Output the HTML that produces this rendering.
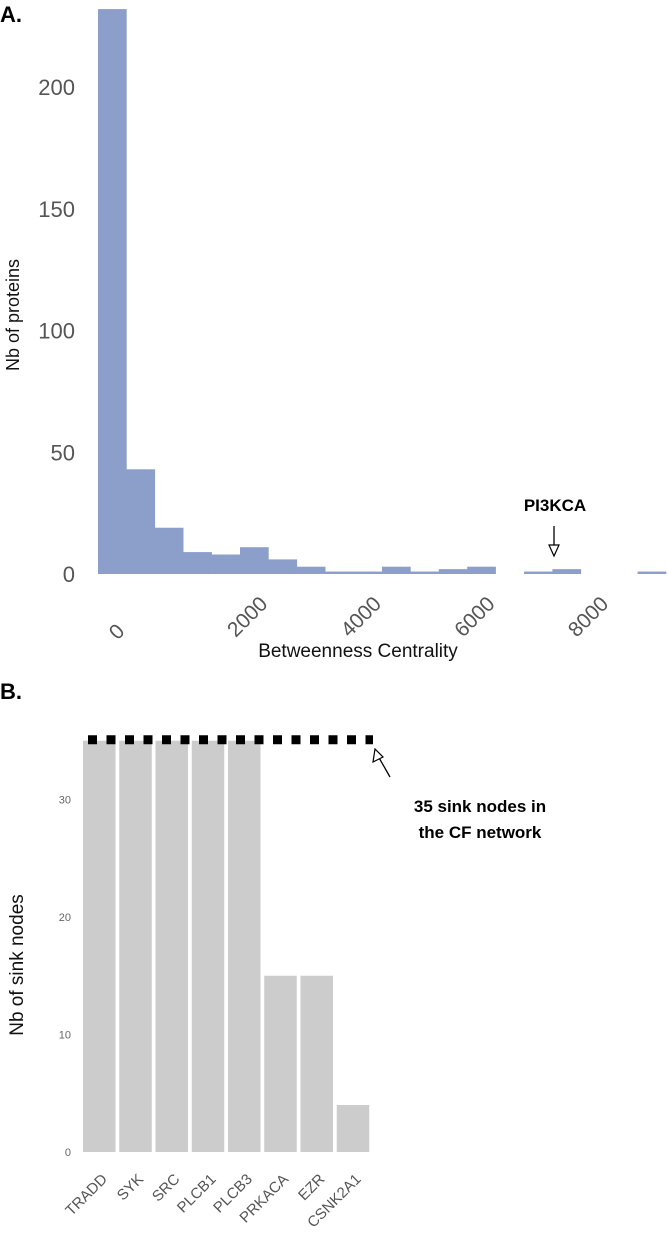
<!DOCTYPE html>
<html><head><meta charset="utf-8"><style>
html,body{margin:0;padding:0;background:#fff;}
svg{display:block;font-family:"Liberation Sans",Arial,sans-serif;}
</style></head><body>
<svg id="fig" width="668" height="1240" viewBox="0 0 668 1240" xmlns="http://www.w3.org/2000/svg">
<text x="0" y="22" font-size="22" font-weight="bold" fill="#000">A.</text>
<g id="histA"></g>
<text x="358" y="657" font-size="19" text-anchor="middle" fill="#111">Betweenness Centrality</text>
<text transform="translate(19,315) rotate(-90)" font-size="18" text-anchor="middle" fill="#111">Nb of proteins</text>
<text x="555" y="511" font-size="17" font-weight="bold" text-anchor="middle" fill="#000">PI3KCA</text>
<g>
<line x1="554" y1="526" x2="554" y2="548" stroke="#000" stroke-width="1.3"/>
<polygon points="549,545 559,545 554,556" fill="#fff" stroke="#000" stroke-width="1.2"/>
</g>

<text x="0" y="699" font-size="22" font-weight="bold" fill="#000">B.</text>
<g id="barB"></g>
<text transform="translate(23,965) rotate(-90)" font-size="19" text-anchor="middle" fill="#111">Nb of sink nodes</text>
<text x="480" y="812" font-size="17" font-weight="bold" text-anchor="middle" fill="#000">35 sink nodes in</text>
<text x="480" y="838" font-size="17" font-weight="bold" text-anchor="middle" fill="#000">the CF network</text>
<g>
<line x1="390" y1="777" x2="378" y2="756" stroke="#000" stroke-width="1.3"/>
<polygon points="375,749 373,762 383,757" fill="#fff" stroke="#000" stroke-width="1.2"/>
</g>
</svg>
<script>
// Panel A data
const binStarts = [0,500,1000,1500,2000,2500,3000,3500,4000,4500,5000,5500,6000,6500,7000,7500,8000,8500,9000,9500];
const binCounts = [232,43,19,9,8,11,6,3,1,1,3,1,2,3,0,1,2,0,0,1];
const yTicksA = [0,50,100,150,200];
const xTicksA = [0,2000,4000,6000,8000];
const xTickLabelsA = ["0","2000","4000","6000","8000"];
// Panel B data
const genes = ["TRADD","SYK","SRC","PLCB1","PLCB3","PRKACA","EZR","CSNK2A1"];
const sinkCounts = [35,35,35,35,35,15,15,4];
const yTicksB = [0,10,20,30];
const totalSinks = [35];

const NS="http://www.w3.org/2000/svg";
function mk(tag, attrs, parent){const e=document.createElementNS(NS,tag);for(const k in attrs)e.setAttribute(k,attrs[k]);parent.appendChild(e);return e;}

const xA = v => 98 + v/500*28.4;
const yA = v => 574 - v*2.435;
const gA=document.getElementById('histA');
binStarts.forEach((b,i)=>{
  const h=binCounts[i]*2.435;
  const r=mk('rect',{x:xA(b),y:yA(binCounts[i]),width:28.7,height:Math.max(h,0),fill:'#8C9FCB'},gA);
  
  
});
yTicksA.forEach(t=>{
  const tx=mk('text',{x:75,y:yA(t)+8,'font-size':22,'text-anchor':'end',fill:'#555'},gA);
  tx.textContent=String(t);
  
  
});
xTicksA.forEach((t,i)=>{
  const lab=xTickLabelsA[i];
  const cx=xA(t)+19+5.7*(lab.length-1);
  const cy=lab.length>1?617:632;
  const tx=mk('text',{x:cx,y:cy,'font-size':21,'text-anchor':'middle','dominant-baseline':'central',fill:'#555',transform:`rotate(-45 ${cx} ${cy})`},gA);
  tx.textContent=lab;
  
  
});

const band=36.25, x0B=81;
const xB = i => x0B + i*band + 2;
const yB = v => 1152 - v*11.75;
const gB=document.getElementById('barB');
genes.forEach((g,i)=>{
  const r=mk('rect',{x:xB(i),y:yB(sinkCounts[i]),width:32.5,height:sinkCounts[i]*11.75,fill:'#CCCCCC'},gB);
  
  
  const ex=xB(i)+25, ey=1180;
  const tx=mk('text',{x:ex,y:ey,'font-size':15,'text-anchor':'end',fill:'#555',transform:`rotate(-45 ${ex} ${ey})`},gB);
  tx.textContent=g;
  
  
});
yTicksB.forEach(t=>{
  const tx=mk('text',{x:71,y:yB(t)+4,'font-size':11,'text-anchor':'end',fill:'#666'},gB);
  tx.textContent=String(t);
  
  
});
const ln=mk('line',{x1:88,x2:373,y1:yB(totalSinks[0])-1,y2:yB(totalSinks[0])-1,stroke:'#000','stroke-width':9,'stroke-dasharray':'9 9.5'},gB);


</script>
</body></html>
